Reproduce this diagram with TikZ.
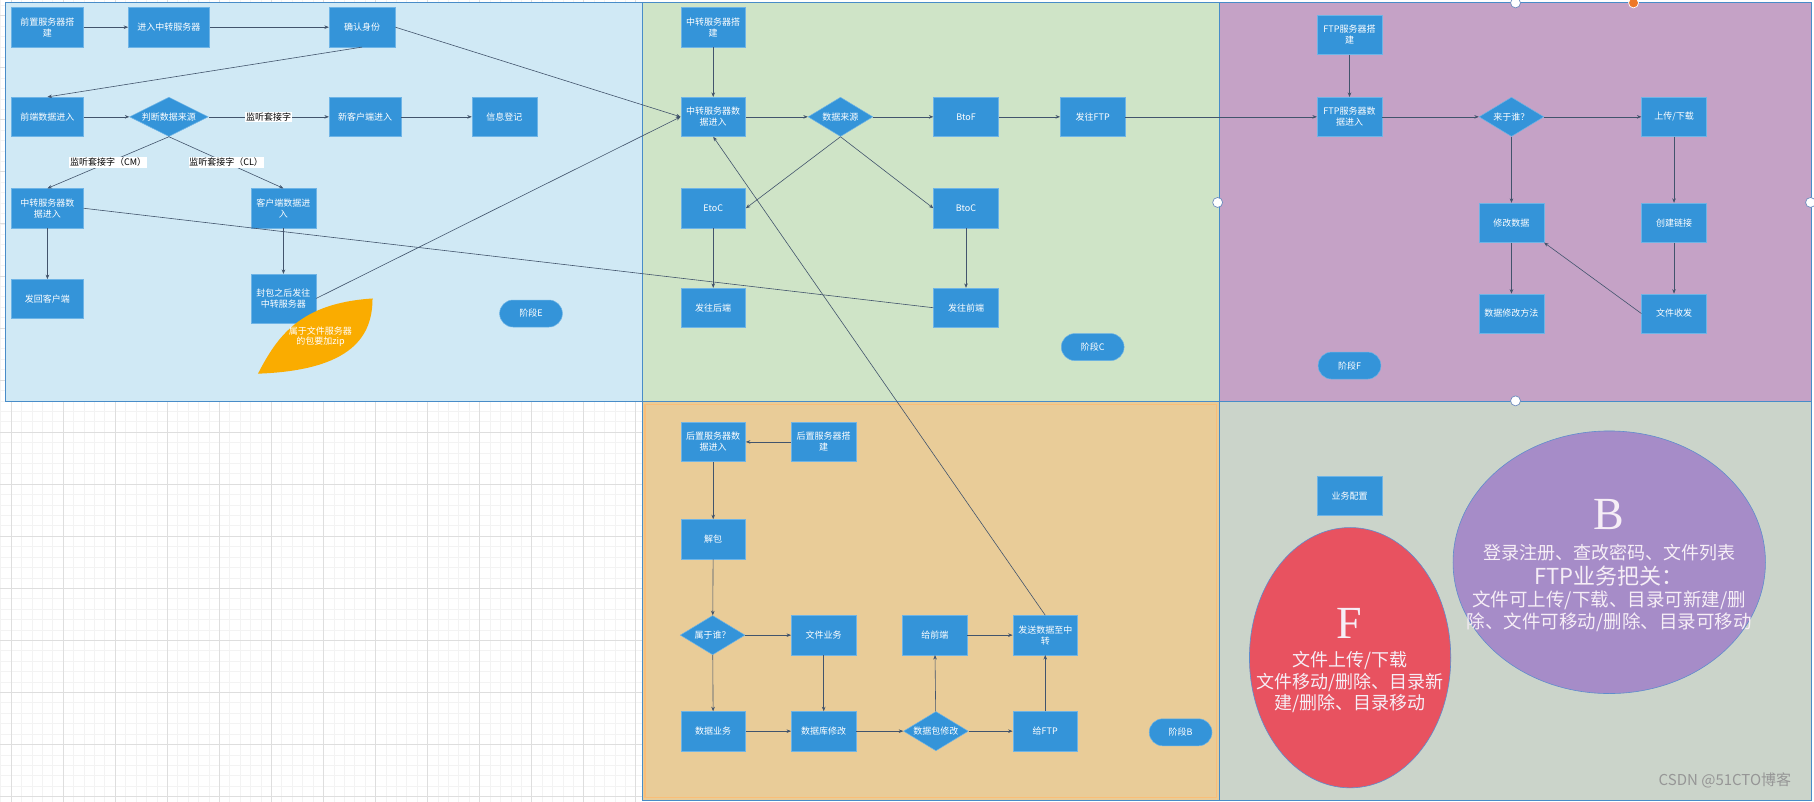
\documentclass[tikz,border=0pt]{standalone}
\usepackage{fontspec}
\usetikzlibrary{shapes.geometric,shapes.misc,arrows.meta}
\newfontfamily\cjk{Noto Sans CJK SC}
\newfontfamily\latinserif{Liberation Serif}

\definecolor{paneA}{RGB}{208,233,245}
\definecolor{paneC}{RGB}{207,228,199}
\definecolor{paneF}{RGB}{197,162,198}
\definecolor{paneB}{RGB}{233,204,152}
\definecolor{paneG}{RGB}{203,212,202}
\definecolor{panelrim}{RGB}{72,140,200}
\definecolor{paneBrim}{RGB}{250,190,120}
\definecolor{boxblue}{RGB}{52,148,217}
\definecolor{boxrim}{RGB}{110,180,230}
\definecolor{flowline}{RGB}{66,84,108}
\definecolor{leaforange}{RGB}{250,172,0}
\definecolor{ellred}{RGB}{232,82,96}
\definecolor{ellpurple}{RGB}{166,140,200}
\definecolor{ellrim}{RGB}{95,140,205}
\definecolor{elltext}{RGB}{246,238,246}
\definecolor{gridminor}{RGB}{243,243,243}
\definecolor{gridmajor}{RGB}{222,222,222}
\definecolor{handlerim}{RGB}{110,140,190}
\definecolor{handleorange}{RGB}{238,120,40}
\definecolor{wmgray}{RGB}{150,150,150}

\newcommand\bxfont{\cjk\fontsize{9}{11}\selectfont}
\newcommand\ellfont{\cjk\fontsize{18}{21}\selectfont}

\tikzset{
  box/.style={rectangle, fill=boxblue, draw=boxrim, line width=0.5pt, text=white,
    font=\bxfont, align=center, inner sep=1pt, minimum width=64.8pt, minimum height=39.3pt},
  widebox/.style={box, minimum width=71.7pt},
  choice/.style={diamond, shape aspect=2, fill=boxblue, draw=boxrim, line width=0.5pt,
    text=white, font=\bxfont, inner sep=0pt, minimum width=64.8pt, minimum height=39.3pt},
  pill/.style={rounded rectangle, fill=boxblue, draw=boxrim, line width=0.5pt, text=white,
    font=\bxfont, minimum width=64.8pt, minimum height=27pt, inner sep=1pt},
  conn/.style={draw=flowline, line width=0.6pt, -{Stealth[length=4.5pt,width=3.6pt]}},
  bare/.style={draw=flowline, line width=0.6pt},
  lbl/.style={fill=white, text=black, font=\bxfont, inner sep=0.8pt},
  panel/.style={draw=panelrim, line width=0.7pt},
  grip/.style={circle, fill=white, draw=handlerim, line width=0.7pt, minimum size=10pt, inner sep=0pt},
  elltxt/.style={text=elltext, font=\ellfont, inner sep=0pt},
  bigletter/.style={text=elltext, font=\latinserif\fontsize{46}{46}\selectfont, inner sep=0pt},
}

\begin{document}
\begin{tikzpicture}[x=1.15689pt, y=-1.15689pt]
\useasboundingbox (0,0) rectangle (1568,693);
\fill[white] (0,0) rectangle (1568,693);

% background grid
\foreach \k in {0,...,61} {\draw[gridminor, line width=0.45pt] ({0.5+9*\k},0) -- ({0.5+9*\k},693);}
\foreach \k in {0,...,76} {\draw[gridminor, line width=0.45pt] (0,{4.4+9*\k}) -- (555,{4.4+9*\k});}
\foreach \m in {0,...,12} {\draw[gridmajor, line width=0.55pt] ({9.5+45*\m},0) -- ({9.5+45*\m},693);}
\foreach \m in {0,...,15} {\draw[gridmajor, line width=0.55pt] (0,{13.4+45*\m}) -- (555,{13.4+45*\m});}

% swimlane panels
\fill[paneA] (5,2) rectangle (555,347);
\fill[paneC] (555,2) rectangle (1054,347);
\fill[paneF] (1054,2) rectangle (1566,347);
\fill[paneB] (555,347) rectangle (1054,692);
\fill[paneG] (1054,347) rectangle (1566,692);
\draw[paneBrim, line width=1.2pt] (557.5,349.5) rectangle (1051.5,689.5);
\draw[panel] (5,2) rectangle (555,347);
\draw[panel] (555,2) rectangle (1054,347);
\draw[panel] (1054,2) rectangle (1566,347);
\draw[panel] (555,347) rectangle (1054,692);
\draw[panel] (1054,347) rectangle (1566,692);

% ---- stage E ----
\node[widebox] (a1) at (41,23.5) {前置服务器搭\\建};
\node[box, minimum width=81pt] (a2) at (146,23.5) {进入中转服务器};
\node[box, minimum width=66pt] (a3) at (313,23.5) {确认身份};
\node[widebox] (a4) at (41,101) {前端数据进入};
\node[choice, minimum width=78.7pt] (ad) at (146,101) {判断数据来源};
\node[widebox] (a5) at (315.5,101) {新客户端进入};
\node[box] (a6) at (436,101) {信息登记};
\node[widebox] (a7) at (41,180) {中转服务器数\\据进入};
\node[box] (a8) at (245,180) {客户端数据进\\入};
\node[widebox] (a9) at (41,258.5) {发回客户端};
\node[box, minimum height=48.6pt] (a10) at (245,258) {封包之后发往\\中转服务器};
\node[pill] (pE) at (459,271) {阶段E};

% ---- stage C ----
\node[box] (c1) at (616.5,23.5) {中转服务器搭\\建};
\node[box] (c2) at (616.5,101) {中转服务器数\\据进入};
\node[choice] (cd) at (726.5,101) {数据来源};
\node[box] (c3) at (835,101) {BtoF};
\node[box] (c4) at (944.5,101) {发往FTP};
\node[box] (c5) at (616.5,180) {EtoC};
\node[box] (c6) at (835,180) {BtoC};
\node[box] (c7) at (616.5,266) {发往后端};
\node[box] (c8) at (835,266) {发往前端};
\node[pill] (pC) at (944.5,300) {阶段C};

% ---- stage F ----
\node[box] (f1) at (1166.5,30) {FTP服务器搭\\建};
\node[box] (f2) at (1166.5,101) {FTP服务器数\\据进入};
\node[choice] (fd) at (1306.5,101) {来于谁？};
\node[box] (f3) at (1447,101) {上传/下载};
\node[box] (f4) at (1306.5,192.5) {修改数据};
\node[box] (f5) at (1447,192.5) {创建链接};
\node[box] (f6) at (1306.5,271) {数据修改方法};
\node[box] (f7) at (1447,271) {文件收发};
\node[pill] (pF) at (1166.5,316) {阶段F};

% ---- stage B ----
\node[box] (b1) at (616.5,382) {后置服务器数\\据进入};
\node[box] (b2) at (712,382) {后置服务器搭\\建};
\node[box] (b3) at (616.5,466) {解包};
\node[choice] (bd) at (616,549) {属于谁？};
\node[box] (b4) at (712,549) {文件业务};
\node[box] (b5) at (808,549) {给前端};
\node[box] (b6) at (903.5,549) {发送数据至中\\转};
\node[box] (b7) at (616.5,632) {数据业务};
\node[box] (b8) at (712,632) {数据库修改};
\node[choice] (bd2) at (809,632) {数据包修改};
\node[box] (b9) at (903.5,632) {给FTP};
\node[pill] (pB) at (1020.5,633) {阶段B};

% ---- business configuration ----
\node[box] (g1) at (1166.5,428.5) {业务配置};

% connectors, stage E
\draw[conn] (a1) -- (a2);
\draw[conn] (a2) -- (a3);
\draw[conn] (a3.east) -- (c2.west);
\draw[conn] (a3.south) -- (a4.north);
\draw[conn] (a4) -- (ad);
\draw[conn] (ad) -- node[lbl] {监听套接字} (a5);
\draw[conn] (a5) -- (a6);
\draw[conn] (ad.south) -- node[lbl] {监听套接字（CM）} (a7.north);
\draw[conn] (ad.south) -- node[lbl] {监听套接字（CL）} (a8.north);
\draw[conn] (a7) -- (a9);
\draw[conn] (a8) -- (a10);
\draw[conn] (a10.east) -- (c2.west);
\draw[bare] (a7.east) -- (c8.west);

% connectors, stage C
\draw[conn] (c1) -- (c2);
\draw[conn] (c2) -- (cd);
\draw[conn] (cd) -- (c3);
\draw[conn] (c3) -- (c4);
\draw[conn] (c4) -- (f2);
\draw[conn] (cd.south) -- (c5.east);
\draw[conn] (cd.south) -- (c6.west);
\draw[conn] (c5) -- (c7);
\draw[conn] (c6) -- (c8);
\draw[conn] (b6.north) -- (c2.south);

% connectors, stage F
\draw[conn] (f1) -- (f2);
\draw[conn] (f2) -- (fd);
\draw[conn] (fd) -- (f3);
\draw[conn] (fd.south) -- (f4.north);
\draw[conn] (f3) -- (f5);
\draw[conn] (f5) -- (f7);
\draw[conn] (f4) -- (f6);
\draw[conn] (f7.west) -- (f4.south east);

% connectors, stage B
\draw[conn] (b2) -- (b1);
\draw[conn] (b1) -- (b3);
\draw[conn] (b3) -- (bd);
\draw[conn] (bd) -- (b4);
\draw[conn] (bd) -- (b7);
\draw[conn] (b4) -- (b8);
\draw[conn] (b7) -- (b8);
\draw[conn] (b8) -- (bd2);
\draw[conn] (bd2) -- (b5);
\draw[conn] (bd2) -- (b9);
\draw[conn] (b5) -- (b6);
\draw[conn] (b9) -- (b6);

% leaf note over the packing box
\fill[leaforange] (223,323) .. controls (240,290) and (260,262) .. (322,258)
  .. controls (322,290) and (305,320) .. (223,323);
\node[text=white, font=\cjk\fontsize{9}{10}\selectfont, align=center, inner sep=0pt]
  (leaf) at (277,291) {属于文件服务器\\的包要加zip};

% summary ellipses
\node[ellipse, fill=ellred, draw=ellrim, line width=0.6pt, minimum width=201.3pt,
  minimum height=260.3pt, inner sep=0pt] (eF) at (1167,568.5) {};
\node[ellipse, fill=ellpurple, draw=ellrim, line width=0.6pt, minimum width=312.4pt,
  minimum height=262.6pt, inner sep=0pt] (eB) at (1391,486) {};
\node[bigletter] (tF) at (1166,539) {F};
\node[elltxt] (tF1) at (1167,570.5) {文件上传/下载};
\node[elltxt] (tF2) at (1167,589.5) {文件移动/删除、目录新};
\node[elltxt] (tF3) at (1167,608) {建/删除、目录移动};
\node[bigletter] (tB) at (1391,445) {B};
\node[elltxt] (tB1) at (1391,477.5) {登录注册、查改密码、文件列表};
\node[elltxt, font=\cjk\fontsize{22}{24}\selectfont] (tB2) at (1391,498) {FTP业务把关：};
\node[elltxt, font=\cjk\fontsize{18.5}{21}\selectfont] (tB3) at (1391,519) {文件可上传/下载、目录可新建/删};
\node[elltxt, font=\cjk\fontsize{18.5}{21}\selectfont] (tB4) at (1391,537.5) {除、文件可移动/删除、目录可移动};

% watermark
\node[text=wmgray, font=\cjk\fontsize{15}{15}\selectfont, inner sep=0pt] (wm) at (1491,675) {CSDN @51CTO博客};

% selection handles
\node[grip] (h1) at (1310,2.5) {};
\node[grip, fill=handleorange, draw=white] (h2) at (1412,2.5) {};
\node[grip] (h3) at (1052.5,175) {};
\node[grip] (h4) at (1565,175) {};
\node[grip] (h5) at (1310,346.5) {};
\end{tikzpicture}
\end{document}
